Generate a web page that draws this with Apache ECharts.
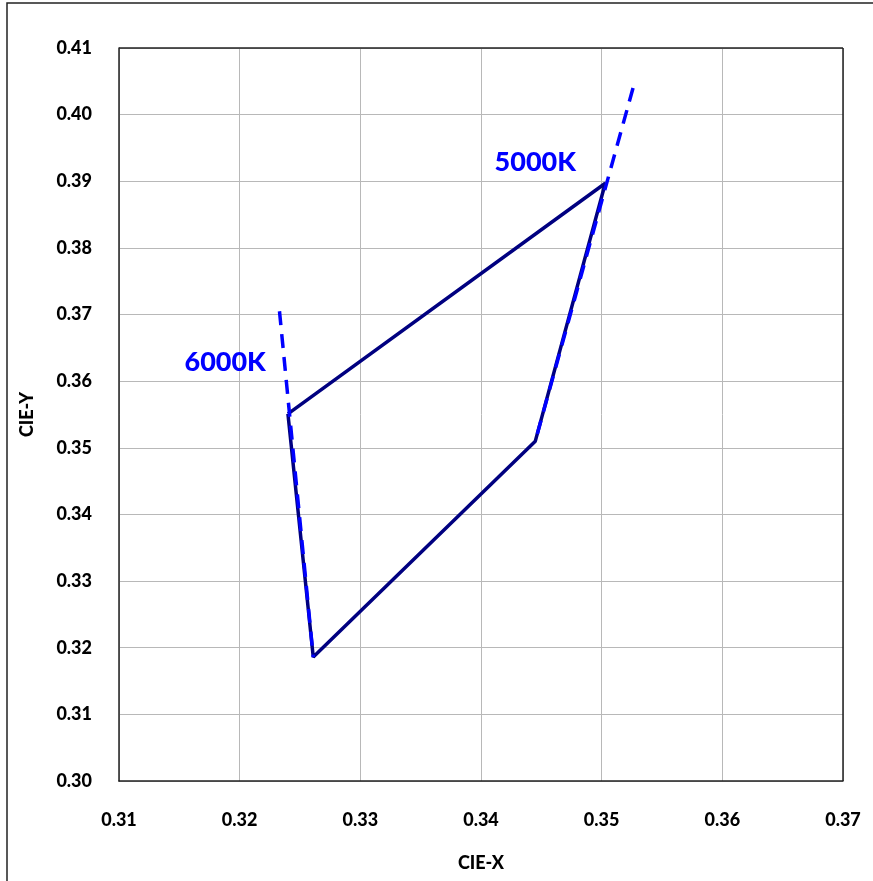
<!DOCTYPE html>
<html><head><meta charset="utf-8">
<script src="https://cdn.jsdelivr.net/npm/echarts@6/dist/echarts.min.js"></script>
<style>html,body{margin:0;padding:0;background:#fff}#c{width:873px;height:881px}</style>
</head><body><div id="c"></div>
<script>
// Quadrangle corners (CIE x, y)
const quadX = [0.3240, 0.3503, 0.3445, 0.3261, 0.3240];
const quadY = [0.3551, 0.3897, 0.3510, 0.3186, 0.3551];
// Isotemperature lines
const iso6000X = [0.3233, 0.3261];
const iso6000Y = [0.3705, 0.3186];
const iso5000X = [0.3526, 0.3445];
const iso5000Y = [0.4040, 0.3510];
// Labels
const labelNames = ['6000K', '5000K'];
const labelX = [0.3188, 0.3445];
const labelY = [0.3629, 0.3929];
// Axis ticks
const xTicks = [0.31, 0.32, 0.33, 0.34, 0.35, 0.36, 0.37];
const yTicks = [0.30, 0.31, 0.32, 0.33, 0.34, 0.35, 0.36, 0.37, 0.38, 0.39, 0.40, 0.41];

const zip = (a, b) => a.map((v, i) => [v, b[i]]);
const FONT = 'Lato';
const W = 900;
const chart = echarts.init(document.getElementById('c'));
chart.setOption({
  animation: false,
  backgroundColor: '#fff',
  graphic: [{ type: 'rect', shape: { x: 7, y: 3, width: 1000, height: 1000 }, style: { fill: 'none', stroke: '#222', lineWidth: 1.5 }, silent: true }],
  grid: { left: 119, right: 30, top: 48, bottom: 100 },
  xAxis: {
    type: 'value', min: xTicks[0], max: xTicks[xTicks.length - 1], interval: 0.01,
    name: 'CIE-X', nameLocation: 'middle', nameGap: 73,
    nameTextStyle: { fontFamily: FONT, fontWeight: W, fontSize: 18, color: '#000' },
    axisLine: { show: true, lineStyle: { color: '#222', width: 1.5 } },
    axisTick: { show: false },
    axisLabel: { fontFamily: FONT, fontWeight: W, fontSize: 18, color: '#000', margin: 30, formatter: v => v.toFixed(2) },
    splitLine: { show: true, lineStyle: { color: '#b8b8b8', width: 1 } }
  },
  yAxis: {
    type: 'value', min: yTicks[0], max: yTicks[yTicks.length - 1], interval: 0.01,
    name: 'CIE-Y', nameLocation: 'middle', nameGap: 83, nameRotate: 90,
    nameTextStyle: { fontFamily: FONT, fontWeight: W, fontSize: 18, color: '#000' },
    axisLine: { show: true, lineStyle: { color: '#222', width: 1.5 } },
    axisTick: { show: false },
    axisLabel: { fontFamily: FONT, fontWeight: W, fontSize: 18, color: '#000', margin: 27, formatter: v => v.toFixed(2) },
    splitLine: { show: true, lineStyle: { color: '#b8b8b8', width: 1 } }
  },
  series: [
    { type: 'line', data: zip(quadX, quadY), symbol: 'none', lineStyle: { color: '#000080', width: 3.5 }, z: 3 },
    { type: 'line', data: zip(iso6000X, iso6000Y), symbol: 'none', lineStyle: { color: '#0000ff', width: 3.5, type: [14, 9] }, z: 4 },
    { type: 'line', data: zip(iso5000X, iso5000Y), symbol: 'none', lineStyle: { color: '#0000ff', width: 3.5, type: [14, 9] }, z: 4 },
    { type: 'scatter', data: labelNames.map((n, i) => ({ name: n, value: [labelX[i], labelY[i]] })), symbolSize: 0,
      itemStyle: { opacity: 1 },
      label: { show: true, position: 'inside', formatter: p => p.name, fontFamily: FONT, fontWeight: W, fontSize: 27, color: '#0000ff', opacity: 1 }, z: 5 },
    { type: 'line', data: [], markLine: { silent: true, symbol: 'none', label: { show: false },
      lineStyle: { color: '#222', width: 1.5, type: 'solid' },
      data: [{ xAxis: xTicks[xTicks.length - 1] }, { yAxis: yTicks[yTicks.length - 1] }] } }
  ]
});
</script></body></html>
